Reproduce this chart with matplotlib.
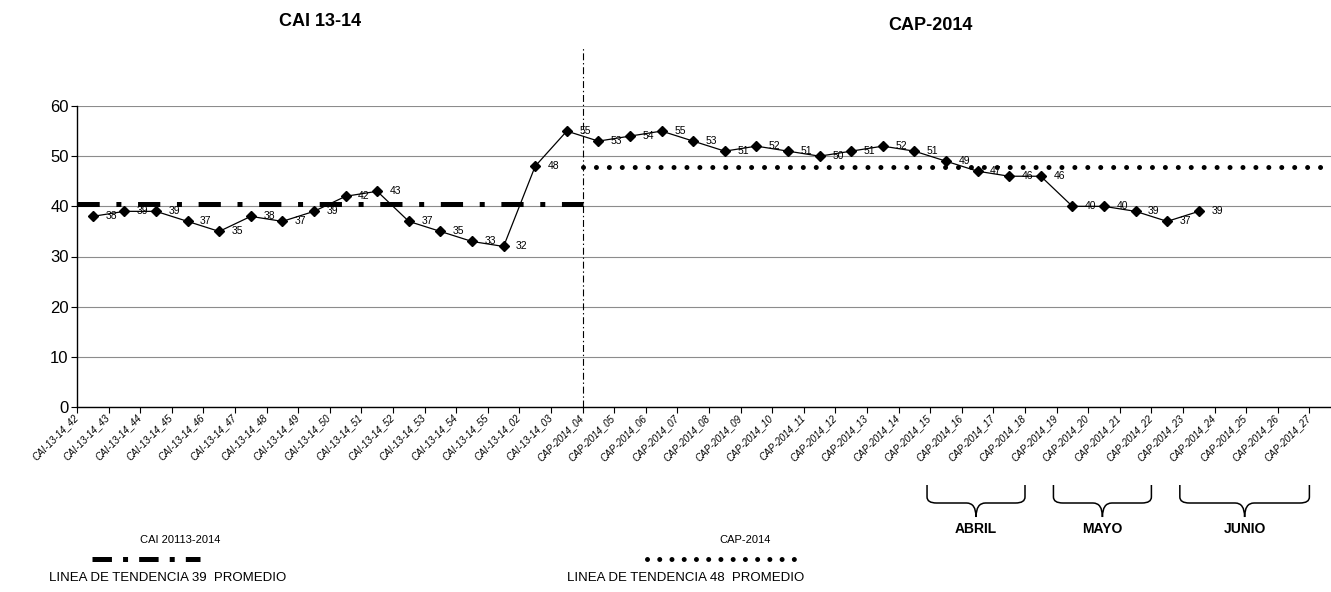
import numpy as np
import matplotlib.pyplot as plt
from matplotlib import transforms
from matplotlib.lines import Line2D
from matplotlib.path import Path
from matplotlib.patches import PathPatch

plt.rcParams['font.family'] = ['Liberation Sans', 'DejaVu Sans']
plt.rcParams['lines.scale_dashes'] = False

# weeks on the x axis
cai_weeks = ['42', '43', '44', '45', '46', '47', '48', '49', '50', '51',
             '52', '53', '54', '55', '02', '03']
cap_weeks = ['04', '05', '06', '07', '08', '09', '10', '11', '12', '13',
             '14', '15', '16', '17', '18', '19', '20', '21', '22', '23',
             '24', '25', '26', '27']
categories = ['CAI-13-14_' + w for w in cai_weeks] + ['CAP-2014_' + w for w in cap_weeks]

# weekly values
cai_values = [38, 39, 39, 37, 35, 38, 37, 39, 42, 43, 37, 35, 33, 32, 48, 55]
cap_values = [53, 54, 55, 53, 51, 52, 51, 50, 51, 52, 51, 49, 47, 46, 46,
              40, 40, 39, 37, 39]

# trend lines (level as drawn) and the average written in the legend
cai_trend = 40.5
cap_trend = 47.8
cai_promedio = 39
cap_promedio = 48

# month groups under the CAP weeks: name, first week, number of weeks
months = [('ABRIL', '16', 4), ('MAYO', '20', 4), ('JUNIO', '24', 5)]

W, H = 1331, 592
fig = plt.figure(figsize=(W / 100, H / 100), dpi=100)
ax = fig.add_axes([77 / W, 1 - 407 / H, 1264 / W, 301 / H])

n_cai = len(cai_weeks)
n_all = len(categories)
values = cai_values + cap_values
x = np.arange(len(values))

# weekly series
ax.plot(x, values, color='black', lw=0.9, marker='D', ms=5.5, zorder=5)
for xi, v in zip(x, values):
    ax.annotate(f'{v:.0f}', (xi, v), xytext=(9, 0), textcoords='offset points',
                fontsize=7.5, ha='left', va='center', zorder=6)

# trend lines
dashdot = (0, (16, 12, 3.6, 12))
dots = (0, (0.01, 9.3))
ax.plot([-0.5, n_cai - 0.5], [cai_trend, cai_trend], color='black', lw=3.6,
        linestyle=dashdot, dash_capstyle='butt', zorder=4)
ax.plot([n_cai - 0.5, n_all - 0.5], [cap_trend, cap_trend], color='black', lw=3.6,
        linestyle=dots, dash_capstyle='round', zorder=4)

# divider between the two campaigns
ax.axvline(n_cai - 0.5, ymin=0, ymax=1.2, color='black', lw=0.8,
           linestyle=(0, (5, 2, 1, 2)), clip_on=False)

ax.set_xlim(-0.5, n_all - 0.5)
ax.set_ylim(0, 60)
ax.set_yticks(range(0, 61, 10))
ax.yaxis.grid(True, color='#8c8c8c', lw=0.8)
ax.set_axisbelow(True)
for s in ['top', 'right']:
    ax.spines[s].set_visible(False)
for s in ['left', 'bottom']:
    ax.spines[s].set_linewidth(1.0)

ax.tick_params(axis='y', labelsize=12, length=4, width=0.8, pad=2)
ax.set_xticks(np.arange(n_all))
ax.set_xticks(np.arange(-0.5, n_all, 1), minor=True)
ax.tick_params(axis='x', which='major', length=0, pad=4)
ax.tick_params(axis='x', which='minor', length=4, width=0.8)
ax.set_xticklabels(categories, rotation=45, ha='right', va='top',
                   rotation_mode='anchor', fontsize=7, style='italic')
shift = transforms.ScaledTranslation(-0.2, 0, fig.dpi_scale_trans)
for lab in ax.get_xticklabels():
    lab.set_transform(lab.get_transform() + shift)

# titles
fig.text(320 / W, 1 - 22 / H, 'CAI 13-14', ha='center', va='center',
         fontsize=13, fontweight='bold')
fig.text(930 / W, 1 - 25 / H, 'CAP-2014', ha='center', va='center',
         fontsize=13, fontweight='bold')

# month braces
bt = transforms.blended_transform_factory(ax.transData, fig.transFigure)
y_top, y_h, y_tip = 1 - 485 / H, 1 - 503 / H, 1 - 517 / H
dy = 6 / H
r = 0.3
for name, first, n in months:
    i0 = categories.index('CAP-2014_' + first)
    x0 = i0 - 1.6
    x1 = i0 + n - 1 - 1.5
    xm = (x0 + x1) / 2
    verts = [(x0, y_top), (x0, y_h + dy), (x0, y_h), (x0 + r, y_h),
             (xm - r, y_h), (xm, y_h), (xm, y_tip),
             (xm, y_h), (xm + r, y_h),
             (x1 - r, y_h), (x1, y_h), (x1, y_h + dy), (x1, y_top)]
    codes = [Path.MOVETO, Path.LINETO, Path.CURVE3, Path.CURVE3,
             Path.LINETO, Path.CURVE3, Path.CURVE3,
             Path.CURVE3, Path.CURVE3,
             Path.LINETO, Path.CURVE3, Path.CURVE3, Path.LINETO]
    fig.add_artist(PathPatch(Path(verts, codes), transform=bt, fill=False,
                             lw=1.1, color='black'))
    fig.text(xm, 1 - 529 / H, name, transform=bt, ha='center', va='center',
             fontsize=10, fontweight='bold')

# legend notes at the bottom
fig.text(180 / W, 1 - 540 / H, 'CAI 20113-2014', ha='center', va='center', fontsize=8)
fig.add_artist(Line2D([92 / W, 200 / W], [1 - 559 / H, 1 - 559 / H],
                      transform=fig.transFigure, color='black', lw=3.6,
                      linestyle=(0, (14, 8, 3.6, 8)), dash_capstyle='butt'))
fig.text(168 / W, 1 - 578 / H, f'LINEA DE TENDENCIA {cai_promedio}  PROMEDIO',
         ha='center', va='center', fontsize=9.5)

fig.text(745 / W, 1 - 540 / H, 'CAP-2014', ha='center', va='center', fontsize=8)
fig.add_artist(Line2D([647 / W, 795 / W], [1 - 559 / H, 1 - 559 / H],
                      transform=fig.transFigure, color='black', lw=3.6,
                      linestyle=(0, (0.01, 8.8)), dash_capstyle='round'))
fig.text(686 / W, 1 - 578 / H, f'LINEA DE TENDENCIA {cap_promedio}  PROMEDIO',
         ha='center', va='center', fontsize=9.5)

fig.savefig('out.png', dpi=100)
